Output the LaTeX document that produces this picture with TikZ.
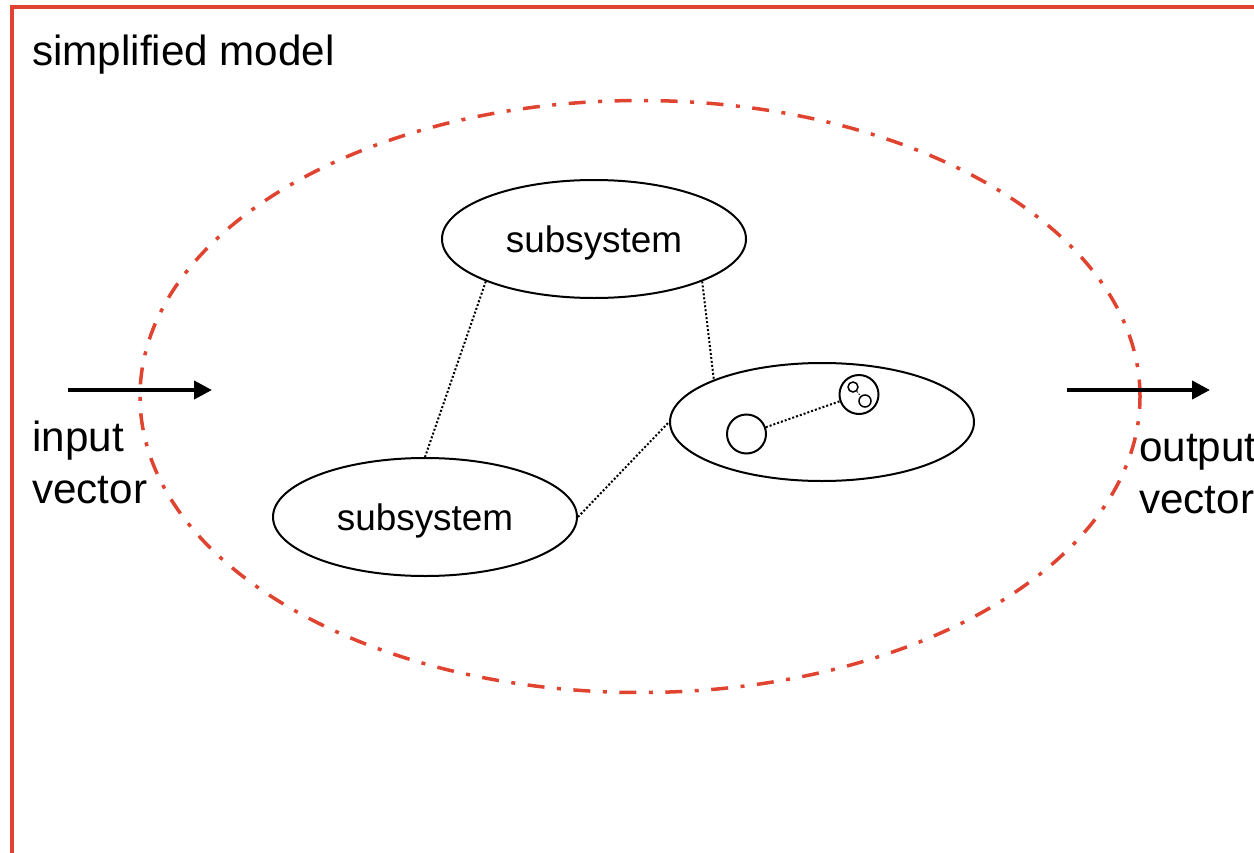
\documentclass[tikz,border=0pt]{standalone}
\usepackage{fontspec}
\setmainfont{Liberation Sans}
\usepackage{tikz}
\usetikzlibrary{arrows.meta, shapes.geometric}
\definecolor{modelred}{RGB}{224,68,48}

\begin{document}
\begin{tikzpicture}[>={Triangle[length=0.36cm,width=0.36cm]},
    subsys/.style={draw, ellipse, line width=0.04cm, minimum width=6.08cm, minimum height=2.36cm, inner sep=0, text height=20pt, text depth=4.5pt, font=\fontsize{21}{25}\selectfont},
    ball/.style={draw, circle, line width=0.04cm, inner sep=0},
    link/.style={line width=0.04cm, dash pattern=on 0.04cm off 0.04cm},
    label/.style={font=\fontsize{24}{29.5}\selectfont, align=left, inner sep=0}]
    \useasboundingbox (0,0) rectangle (25.08,-17.06);

    % 边框
    \draw[modelred, line width=0.08cm] (0.24,-17.2) -- (0.24,-0.14) -- (25.2,-0.14);
    \node[label, anchor=base west] (title) at (0.64,-1.30) {simplified model};

    % 模型范围
    \node[draw=modelred, ellipse, line width=0.07cm, minimum width=20cm, minimum height=11.84cm,
        dash pattern=on 0.34cm off 0.25cm on 0.08cm off 0.25cm] (model) at (12.8,-7.93) {};

    % 子系统
    \node[subsys] (top) at (11.88,-4.78) {subsystem};
    \node[subsys] (bot) at (8.50,-10.34) {subsystem};
    \node[subsys] (rgt) at (16.44,-8.44) {};
    \node[ball, minimum size=0.78cm] (c1) at (14.93,-8.68) {};
    \node[ball, minimum size=0.78cm] (c2) at (17.18,-7.89) {};
    \node[ball, minimum size=0.2cm, line width=0.03cm] (t1) at (17.06,-7.74) {};
    \node[ball, minimum size=0.24cm, line width=0.03cm] (t2) at (17.30,-8.02) {};

    % 虚线
    \draw[link] (top.south west) -- (bot.north);
    \draw[link] (top.south east) -- (rgt.north west);
    \draw[link] (bot.east) -- (rgt.west);
    \draw[link] (c1) -- (c2);
    \draw[line width=0.02cm, dash pattern=on 0.03cm off 0.03cm] (t1) -- (t2);

    % 箭头
    \coordinate (in1) at (1.36,-7.80);
    \coordinate (in2) at (4.24,-7.80);
    \coordinate (out1) at (21.34,-7.80);
    \coordinate (out2) at (24.20,-7.80);
    \draw[->, line width=0.08cm] (in1) -- (in2);
    \draw[->, line width=0.08cm] (out1) -- (out2);

    % 标签
    \node[label, anchor=north west] (inlab) at (0.64,-8.42) {input\\vector};
    \node[label, anchor=north west] (outlab) at (22.78,-8.68) {output\\vector};
\end{tikzpicture}
\end{document}
